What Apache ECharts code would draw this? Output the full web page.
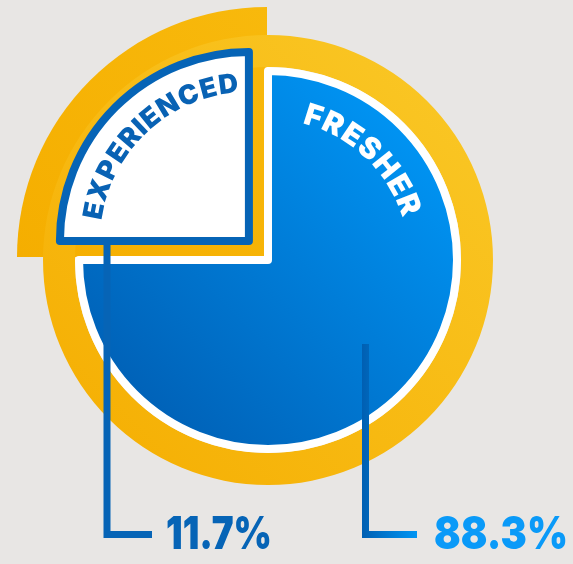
<!DOCTYPE html>
<html>
<head>
<meta charset="utf-8">
<script src="https://cdn.jsdelivr.net/npm/echarts@6/dist/echarts.min.js"></script>
<style>
  html, body { margin: 0; padding: 0; background: #e8e6e4; }
  #chart { width: 573px; height: 564px; }
</style>
</head>
<body>
<div id="chart"></div>
<script>
// data
const categories = ['EXPERIENCED', 'FRESHER']
const shareLabels = [11.7, 88.3]   // percentages printed under the chart
const sliceShare = [25, 75]        // angular share of each slice as drawn in the graphic

const CENTER = [268, 260]
const OFFSET = 27
const NUM_SIZE = 46

const chart = echarts.init(document.getElementById('chart'))
const grad = (a, b) => new echarts.graphic.LinearGradient(0, 1, 1, 0, [
  { offset: 0, color: a }, { offset: 1, color: b },
])
const ctx = document.createElement('canvas').getContext('2d')

// letters laid out along an arc, centres from angle a0 to a1 (degrees)
function arcText(text, cx, cy, r, a0, a1, size, color) {
  ctx.font = `900 ${size}px Inter`
  const chars = [...text]
  const pos = []
  let acc = 0
  chars.forEach((ch) => {
    const w = ctx.measureText(ch).width
    pos.push(acc + w / 2)
    acc += w
  })
  const p0 = pos[0], p1 = pos[pos.length - 1]
  return chars.map((ch, i) => {
    const a = (a0 + (a1 - a0) * (pos[i] - p0) / (p1 - p0)) * Math.PI / 180
    return {
      type: 'text', z: 20,
      x: cx + r * Math.cos(a), y: cy - r * Math.sin(a),
      rotation: a - Math.PI / 2,
      style: {
        text: ch, fill: color, align: 'center', verticalAlign: 'middle',
        fontFamily: 'Inter', fontSize: size, fontWeight: 900,
      },
    }
  })
}

// big percentage, squeezed horizontally to the given width
function numText(value, x, width, color) {
  const txt = value + '%'
  ctx.font = `900 ${NUM_SIZE}px Inter`
  const w = ctx.measureText(txt).width
  return {
    type: 'text', z: 20, x, y: 535, scaleX: width / w,
    style: {
      text: txt, fill: color, fontFamily: 'Inter', fontWeight: 900, fontSize: NUM_SIZE,
      verticalAlign: 'middle', align: 'left',
    },
  }
}

const d = OFFSET * Math.SQRT1_2
const expCenter = [CENTER[0] - d, CENTER[1] - d]

chart.setOption({
  backgroundColor: '#e8e6e4',
  animation: false,
  series: [
    {
      // orange quarter behind the pulled-out slice
      type: 'pie', silent: true, z: 1,
      center: [267, 257], radius: 250, startAngle: 180,
      label: { show: false }, labelLine: { show: false }, emphasis: { disabled: true },
      data: [
        { value: sliceShare[0], itemStyle: { color: grad('#f5ae00', '#f8b90c') } },
        { value: sliceShare[1], itemStyle: { color: 'transparent' } },
      ],
    },
    {
      // orange ring
      type: 'pie', silent: true, z: 2,
      center: CENTER, radius: [193, 225],
      label: { show: false }, labelLine: { show: false }, emphasis: { disabled: true },
      itemStyle: { color: grad('#f5ad00', '#fac928') },
      data: [{ value: sliceShare[0] + sliceShare[1] }],
    },
    {
      type: 'pie', silent: true, z: 3,
      center: CENTER, radius: 189, startAngle: 180,
      selectedMode: 'single', selectedOffset: OFFSET,
      label: { show: false }, labelLine: { show: false }, emphasis: { disabled: true },
      data: [
        {
          name: categories[0], value: sliceShare[0], selected: true,
          itemStyle: { color: '#ffffff', borderColor: '#0664b6', borderWidth: 8 },
        },
        {
          name: categories[1], value: sliceShare[1],
          itemStyle: { color: grad('#0057ab', '#009eff'), borderColor: '#ffffff', borderWidth: 8 },
        },
      ],
    },
  ],
  graphic: [
    ...arcText(categories[0], expCenter[0], expCenter[1], 157, 169, 97.5, 27, '#0862b4'),
    ...arcText(categories[1], CENTER[0], CENTER[1], 150, 72.4, 21.5, 30, '#ffffff'),
    {
      type: 'polyline', z: 15,
      shape: { points: [[107, 243], [107, 534.5], [152, 534.5]] },
      style: { stroke: '#0664b6', lineWidth: 7, fill: null, lineJoin: 'miter', lineCap: 'butt' },
    },
    {
      type: 'polyline', z: 15,
      shape: { points: [[365.5, 344], [365.5, 534.5], [417, 534.5]] },
      style: {
        stroke: new echarts.graphic.LinearGradient(0, 0, 1, 0, [
          { offset: 0, color: '#005fb2' }, { offset: 1, color: '#0099f8' },
        ]),
        lineWidth: 7, fill: null, lineJoin: 'miter', lineCap: 'butt',
      },
    },
    numText(shareLabels[0], 166, 106, '#0664b6'),
    numText(shareLabels[1], 434, 134, '#0a9af8'),
  ],
})
</script>
</body>
</html>
